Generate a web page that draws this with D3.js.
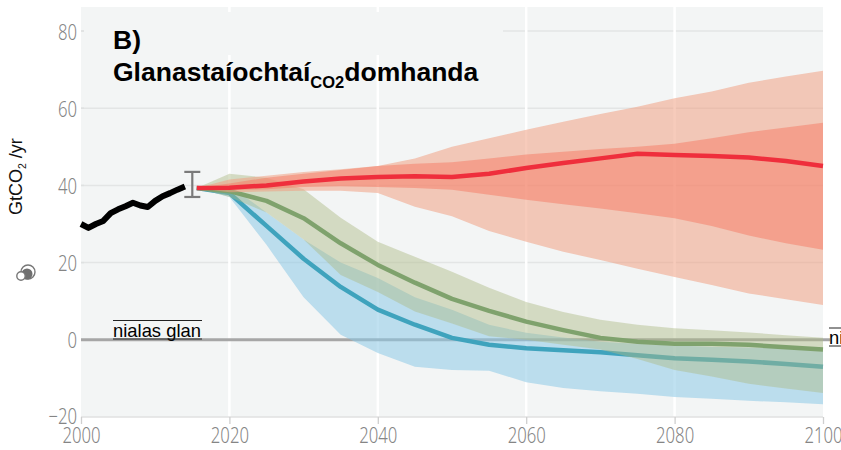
<!DOCTYPE html>
<html><head><meta charset="utf-8">
<script src="https://cdn.jsdelivr.net/npm/d3@7/dist/d3.min.js"></script>
<style>html,body{margin:0;padding:0;background:#fff;overflow:hidden}svg{display:block}</style>
</head><body><svg id="c" width="841" height="450"></svg>
<script>
const xTicks=[2000,2020,2040,2060,2080,2100];
const yTicks=[-20,0,20,40,60,80];
const histYears=[2000,2001,2002,2003,2004,2005,2006,2007,2008,2009,2010,2011,2012,2013,2014];
const histValues=[30,29,30,30.8,32.8,33.8,34.6,35.5,34.8,34.4,36,37.2,38,38.9,39.7];
const errorBar={year:2015,low:37,high:43.5};

const redYears=[2015.6,2020,2025,2030,2035,2040,2045,2050,2055,2060,2065,2070,2075,2080,2085,2090,2095,2100];
const redMedian=[39.3,39.4,40,41,41.8,42.2,42.4,42.2,43,44.5,45.8,47,48.2,47.9,47.6,47.2,46.3,45];
const redOuterHigh=[39.3,41.5,42.5,43.5,44.2,45,47,50,52.2,54.4,56.5,58.5,60.4,62.6,64.3,66.6,68.2,69.7];
const redOuterLow=[39.3,38.2,38.4,38.6,38.6,38,34.5,32,28.2,25.4,22.8,20.7,18.4,16.3,14.2,12,10.5,9];
const redInnerHigh=[39.3,40.5,42,43,44,45,45.6,46,47,48,48.7,49.4,50,50.8,52.2,53.8,55,56.2];
const redInnerLow=[39.3,38.8,39,39.6,39.8,39.6,39.3,38.9,37.6,36.3,35.1,34,32.8,31.5,29.5,27,25,23.3];

const greenYears=[2015.6,2020,2025,2030,2035,2040,2045,2050,2055,2060,2065,2070,2075,2080,2085,2090,2095,2100];
const greenMedian=[39.3,38.5,36,31.5,25,19.4,14.8,10.6,7.5,4.7,2.5,0.5,-0.5,-1,-1,-1.3,-1.9,-2.5];
const greenHigh=[39.3,43,42,39,31.6,25.4,21.5,17.6,13.5,9.8,7.2,5.2,3.9,3,2.5,1.9,1.2,0.5];
const greenLow=[39.3,37,33,26,16.8,12.4,7.3,4.2,0.9,0,-1.3,-2.5,-5,-7.8,-9.5,-11.4,-12.6,-13.8];

const blueYears=[2015.6,2020,2025,2030,2035,2040,2045,2050,2055,2060,2065,2070,2075,2080,2085,2090,2095,2100];
const blueMedian=[39.3,38,29.5,21,13.7,7.8,3.9,0.5,-1.3,-2.2,-2.7,-3.2,-4,-4.8,-5.2,-5.6,-6.3,-7];
const blueHigh=[39.3,40,33,26,20,16,11,7.8,3.9,1.8,0.6,-0.5,-1,-1.5,-1.8,-2,-2.2,-2.5];
const blueLow=[39.3,37,24.6,11,1.3,-3.4,-7,-7.8,-8,-11,-12.5,-13.3,-14,-14.8,-15.3,-15.8,-16.2,-16.7];

const svg=d3.select("#c");
const x=d3.scaleLinear().domain([2000,2100]).range([81,823]);
const y=d3.scaleLinear().domain([-20,80]).range([417,31]);
const panelTop=7;
const sans="'Liberation Sans',Arial,sans-serif";
const tickFont="'Noto Sans',sans-serif";
const tickColor="#858585";
const squeeze=0.76;

svg.append("rect").attr("x",81).attr("y",panelTop).attr("width",742).attr("height",410).attr("fill","#f3f5f5");
svg.append("g").selectAll("line").data(yTicks.filter(d=>d!==0&&d!==-20)).join("line")
  .attr("x1",81).attr("x2",823).attr("y1",d=>y(d)).attr("y2",d=>y(d)).attr("stroke","#e3e5e5").attr("stroke-width",1.5);
svg.append("g").selectAll("line").data(xTicks.slice(1,-1)).join("line")
  .attr("x1",d=>x(d)).attr("x2",d=>x(d)).attr("y1",panelTop).attr("y2",417).attr("stroke","#ffffff").attr("stroke-width",2.5);
svg.append("rect").attr("x",84).attr("y",12).attr("width",419).attr("height",43).attr("fill","#f3f5f5");
svg.append("line").attr("x1",81).attr("x2",830).attr("y1",y(0)).attr("y2",y(0)).attr("stroke","#a6a6a6").attr("stroke-width",3);

function band(years,hi,lo,fill,op){
  const a=d3.area().x((d,i)=>x(years[i])).y0((d,i)=>y(lo[i])).y1((d,i)=>y(hi[i]));
  svg.append("path").attr("d",a(years)).attr("fill",fill).attr("fill-opacity",op);
}
function line(years,vals,stroke,w){
  const l=d3.line().x((d,i)=>x(years[i])).y((d,i)=>y(vals[i]));
  svg.append("path").attr("d",l(years)).attr("fill","none").attr("stroke",stroke).attr("stroke-width",w).attr("stroke-linejoin","round");
}
band(blueYears,blueHigh,blueLow,"#8cc8e6",0.55);
line(blueYears,blueMedian,"#3fa3bd",4.5);
band(greenYears,greenHigh,greenLow,"#acbb86",0.45);
line(greenYears,greenMedian,"#7fa26d",4.5);
band(redYears,redOuterHigh,redOuterLow,"#f0a184",0.55);
band(redYears,redInnerHigh,redInnerLow,"#f57a63",0.5);
line(redYears,redMedian,"#ef2e3c",4.5);
line(histYears,histValues,"#000000",6);

const eb=svg.append("g").attr("stroke","#7a7a7a").attr("stroke-width",2.2).attr("fill","none");
const ex=x(errorBar.year)+0;
eb.append("line").attr("x1",ex).attr("x2",ex).attr("y1",y(errorBar.low)).attr("y2",y(errorBar.high));
[errorBar.low,errorBar.high].forEach(v=>eb.append("line").attr("x1",ex-8).attr("x2",ex+8).attr("y1",y(v)).attr("y2",y(v)));

const xAxis=d3.axisBottom(x).tickValues(xTicks).tickFormat(d3.format("d")).tickSize(7).tickPadding(6);
const gx=svg.append("g").attr("transform","translate(0,417)").call(xAxis);
gx.select(".domain").attr("stroke","#e0e1e1").attr("stroke-width",1.5).attr("d","M81,0H823");
gx.selectAll(".tick line").attr("stroke","#cfcfcf").attr("stroke-width",1.3);
gx.selectAll("text").attr("font-family",tickFont).attr("font-size",22).attr("font-weight",300).attr("fill",tickColor)
  .attr("text-anchor","middle").attr("y",0).attr("dy",0)
  .attr("transform",`translate(0,26) scale(${squeeze},1)`);
const yAxis=d3.axisLeft(y).tickValues(yTicks).tickFormat(d3.format("d")).tickSize(0).tickPadding(4);
const gy=svg.append("g").attr("transform","translate(81,0)").call(yAxis);
gy.select(".domain").remove();
gy.selectAll("text").attr("font-family",tickFont).attr("font-size",22).attr("font-weight",300).attr("fill",tickColor)
  .attr("x",0).attr("dy",0)
  .attr("transform",d=>`translate(-4,${d===-20?6:8}) scale(${squeeze},1)`);
svg.append("g").selectAll("line").data(yTicks.filter(d=>d!==0&&d!==-20)).join("line")
  .attr("x1",81).attr("x2",84).attr("y1",d=>y(d)).attr("y2",d=>y(d)).attr("stroke","#dfe1e1").attr("stroke-width",1.5);

svg.append("text").attr("x",113).attr("y",49).attr("font-family",sans).attr("font-weight",700).attr("font-size",26.5).attr("fill","#000").text("B)");
const t=svg.append("text").attr("x",113).attr("y",81).attr("font-family",sans).attr("font-weight",700).attr("font-size",26.5).attr("fill","#000");
t.append("tspan").text("Glanastaíochtaí");
t.append("tspan").attr("font-size",16.5).attr("dy",7).text("CO2");
t.append("tspan").attr("dy",-7).text("domhanda");

const yl=svg.append("text").attr("transform","translate(22,215) rotate(-90)").attr("font-family",sans).attr("font-size",18).attr("fill","#111");
yl.append("tspan").text("GtCO");
yl.append("tspan").attr("font-size",10.5).attr("dy",4).text("2");
yl.append("tspan").attr("dy",-4).text(" /yr");

const ic=svg.append("g");
ic.append("circle").attr("cx",28).attr("cy",272).attr("r",7).attr("fill","#fff").attr("stroke","#777").attr("stroke-width",1.4);
ic.append("circle").attr("cx",27).attr("cy",274).attr("r",5.5).attr("fill","#6f6f6f");
ic.append("circle").attr("cx",21).attr("cy",276).attr("r",4.2).attr("fill","#fff").attr("stroke","#777").attr("stroke-width",1.4);

function zeroLabel(xp,base,ov,un,w){
  svg.append("text").attr("x",xp).attr("y",base).attr("font-family",sans).attr("font-size",18.4).attr("fill","#000").text("nialas glan");
  svg.append("line").attr("x1",xp).attr("x2",xp+w).attr("y1",ov).attr("y2",ov).attr("stroke","#222").attr("stroke-width",1);
  svg.append("line").attr("x1",xp).attr("x2",xp+w).attr("y1",un).attr("y2",un).attr("stroke","#222").attr("stroke-width",1);
}
zeroLabel(113,337,320.5,339,89);
zeroLabel(829,344,328,346,89);
</script></body></html>
